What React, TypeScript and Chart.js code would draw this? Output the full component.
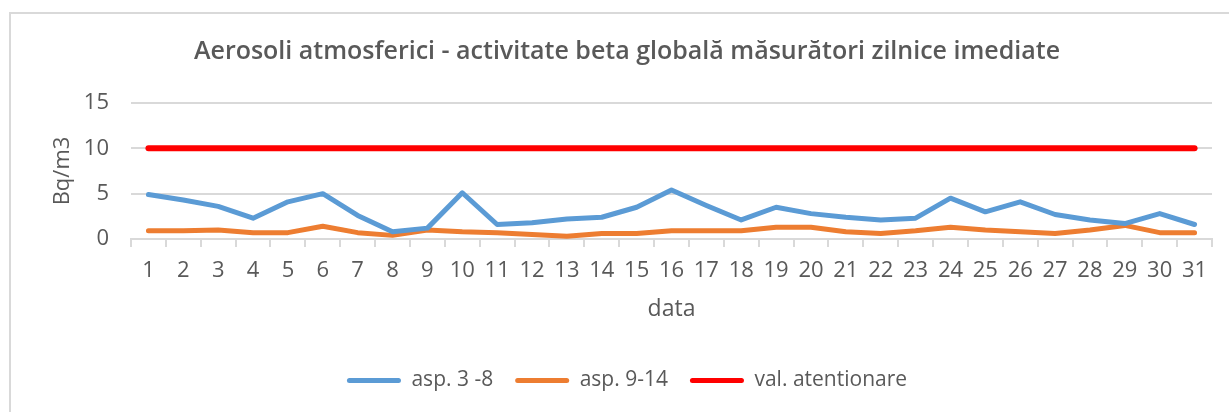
import React, { useEffect, useRef } from "react";
import { Chart, registerables } from "chart.js";

Chart.register(...registerables);

const categories: string[] = Array.from({ length: 31 }, (_, i) => String(i + 1));
const asp3to8: number[] = [4.9, 4.3, 3.6, 2.3, 4.1, 5.0, 2.6, 0.8, 1.2, 5.1, 1.6, 1.8, 2.2, 2.4, 3.5, 5.4, 3.7, 2.1, 3.5, 2.8, 2.4, 2.1, 2.3, 4.5, 3.0, 4.1, 2.7, 2.1, 1.7, 2.8, 1.6];
const asp9to14: number[] = [0.9, 0.9, 1.0, 0.7, 0.7, 1.4, 0.7, 0.4, 1.0, 0.8, 0.7, 0.5, 0.3, 0.6, 0.6, 0.9, 0.9, 0.9, 1.3, 1.3, 0.8, 0.6, 0.9, 1.3, 1.0, 0.8, 0.6, 1.0, 1.5, 0.7, 0.7];
const valAtentionare: number[] = Array(31).fill(10);
const yTicks: number[] = [0, 5, 10, 15];

const FONT = "'Open Sans', sans-serif";
const TEXT = "#595959";
const GRID = "#d9d9d9";

export default function App() {
  const ref = useRef<HTMLCanvasElement | null>(null);

  useEffect(() => {
    document.body.style.margin = "0";
    const ctx = ref.current!;
    const chart = new Chart(ctx, {
      type: "line",
      data: {
        labels: categories,
        datasets: [
          { label: "asp. 3 -8", data: asp3to8, borderColor: "#5B9BD5", backgroundColor: "#5B9BD5", borderWidth: 5, pointRadius: 0, tension: 0, borderCapStyle: "round", borderJoinStyle: "round" },
          { label: "asp. 9-14", data: asp9to14, borderColor: "#ED7D31", backgroundColor: "#ED7D31", borderWidth: 5, pointRadius: 0, tension: 0, borderCapStyle: "round", borderJoinStyle: "round" },
          { label: "val. atentionare", data: valAtentionare, borderColor: "#FF0000", backgroundColor: "#FF0000", borderWidth: 6, pointRadius: 0, tension: 0, borderCapStyle: "round" },
        ],
      },
      options: {
        animation: false,
        responsive: false,
        layout: { padding: { left: 42, right: 17, top: 13, bottom: 11 } },
        plugins: {
          title: {
            display: true,
            text: "Aerosoli atmosferici - activitate beta globală măsurători zilnice imediate",
            color: TEXT,
            font: { family: FONT, size: 25, weight: 600 },
            padding: { top: 24, bottom: 36 },
          },
          legend: {
            position: "bottom",
            labels: {
              color: TEXT,
              font: { family: FONT, size: 21 },
              boxWidth: 54,
              boxHeight: 5,
              padding: 22,
              useBorderRadius: true,
              borderRadius: 2.5,
              generateLabels: (c: any) => {
                const items = Chart.defaults.plugins.legend.labels.generateLabels(c);
                items.forEach((it: any) => { it.lineWidth = 0; });
                return items;
              },
            },
          },
          tooltip: { enabled: false },
        },
        scales: {
          x: {
            offset: true,
            grid: { offset: true, drawOnChartArea: false, drawTicks: true, tickLength: 8, color: GRID, lineWidth: 2 },
            border: { color: GRID, width: 2 },
            ticks: { color: TEXT, font: { family: FONT, size: 22 }, padding: 11, maxRotation: 0, autoSkip: false },
            title: { display: true, text: "data", color: TEXT, font: { family: FONT, size: 23 }, padding: { top: 0, bottom: 25 } },
            afterFit: (s: any) => { s.height = 109; },
          },
          y: {
            min: 0,
            max: 15,
            afterBuildTicks: (s: any) => { s.ticks = yTicks.map((v) => ({ value: v })); },
            grid: { color: GRID, lineWidth: 2, drawTicks: false },
            border: { display: false },
            ticks: { color: TEXT, font: { family: FONT, size: 22 }, padding: 22 },
            title: { display: true, text: "Bq/m3", color: TEXT, font: { family: FONT, size: 22 }, padding: { top: 8, bottom: 0 } },
            afterFit: (s: any) => { s.width = 89; },
          },
        },
      },
    });
    return () => chart.destroy();
  }, []);

  return (
    <div style={{ position: "absolute", left: 0, top: 0, width: 1229, height: 412, background: "#fff" }}>
      <canvas ref={ref} width={1229} height={412} style={{ position: "absolute", left: 0, top: 0 }} />
      <div style={{ position: "absolute", left: 9, top: 12, width: 1229, height: 412, borderTop: "2px solid #d9d9d9", borderLeft: "2px solid #d9d9d9", pointerEvents: "none" }} />
    </div>
  );
}
